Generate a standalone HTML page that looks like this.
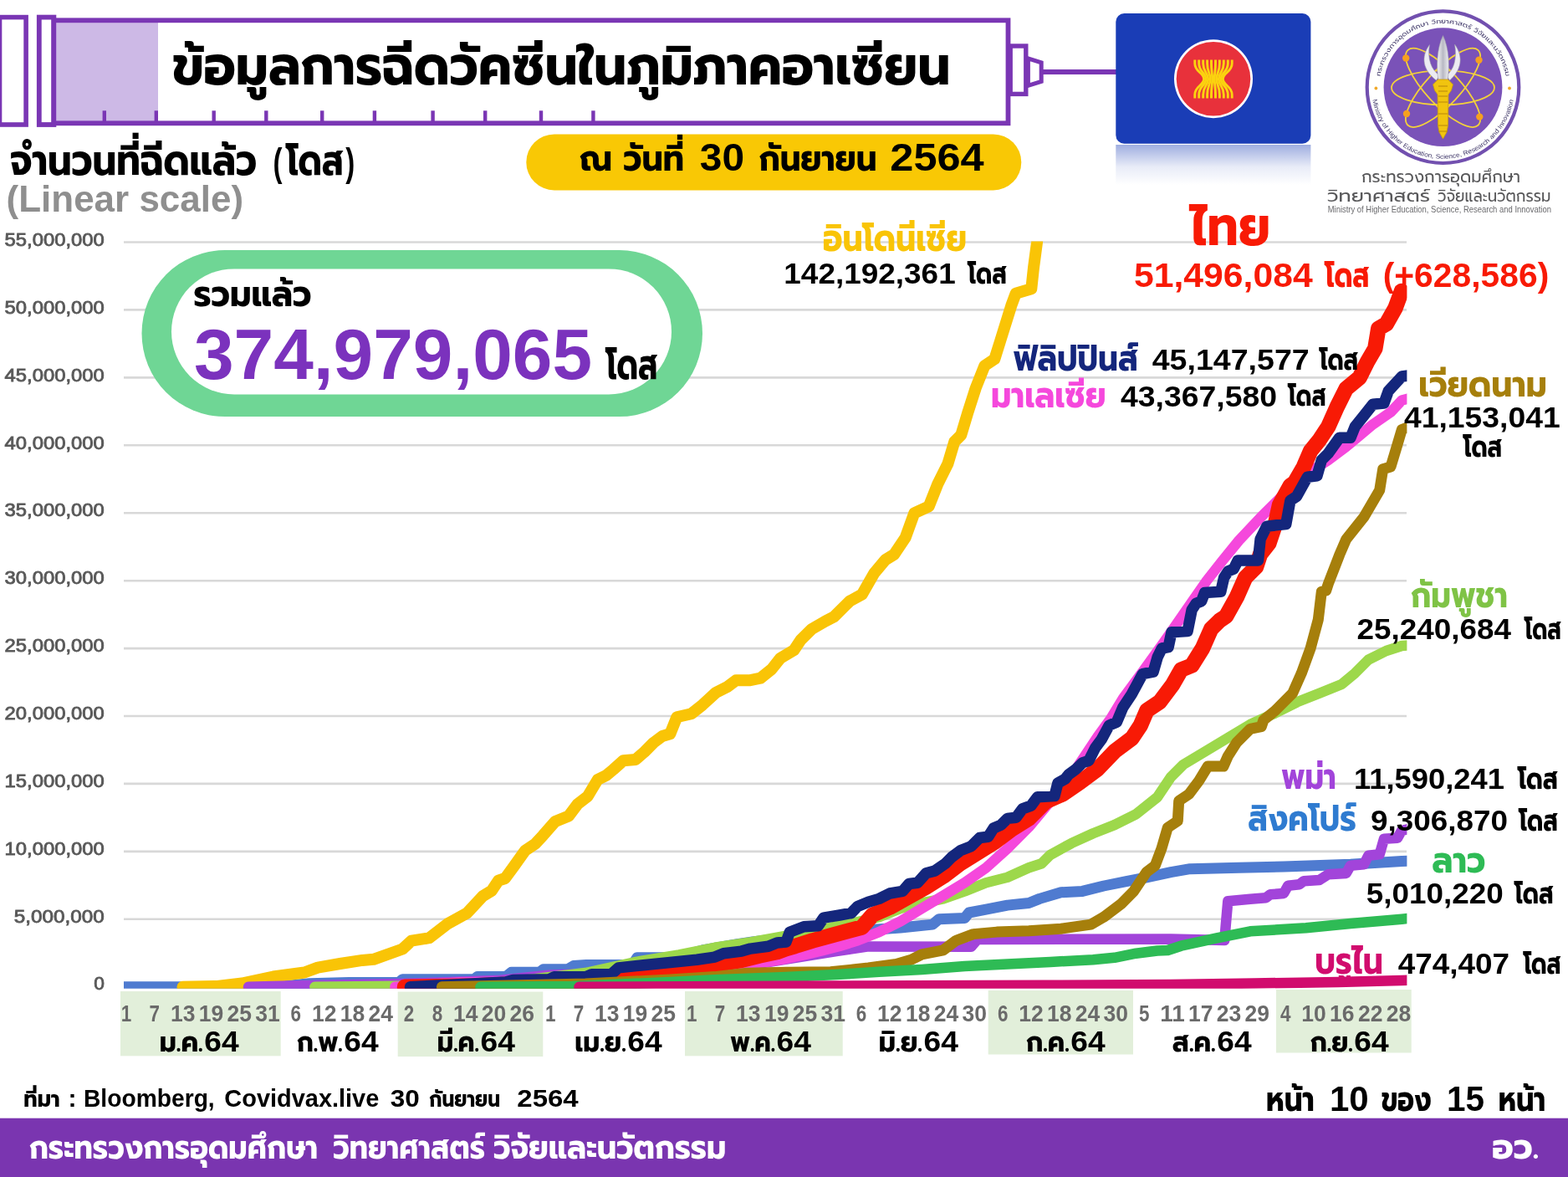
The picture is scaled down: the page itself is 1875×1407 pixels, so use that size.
<!DOCTYPE html>
<html lang="th"><head><meta charset="utf-8"><title>ข้อมูลการฉีดวัคซีนในภูมิภาคอาเซียน</title>
<style>html,body{margin:0;padding:0;background:#fff}body{width:1875px;height:1407px;overflow:hidden}svg{display:block;font-family:"Liberation Sans","Prompt","Kanit","Noto Sans Thai",sans-serif}text{white-space:pre}.tb,.tr{font-family:"Prompt","Kanit","Noto Sans Thai","IPAGothic",sans-serif}.tb{font-weight:700}.tr{font-weight:400}.tb text{font-size:calc(-0.4315em + 2.0629ch);stroke-width:max(0px,calc(0.1074em + -0.1547ch));transform:translate(0px,calc(-0.3579em + 0.5157ch))}.tr text{font-size:calc(-0.5635em + 2.3269ch);stroke-width:max(0px,calc(0.1173em + -0.1745ch));transform:translate(0px,calc(-0.3909em + 0.5817ch))}</style>
</head><body>
<svg width="1875" height="1407" viewBox="0 0 1875 1407">
<defs>
<clipPath id="plot"><rect x="148" y="288.4" width="1534.4" height="893.4"/></clipPath>
<linearGradient id="refl" x1="0" y1="0" x2="0" y2="1"><stop offset="0" stop-color="#1A3DB5" stop-opacity="0.42"/><stop offset="0.55" stop-color="#1A3DB5" stop-opacity="0.10"/><stop offset="1" stop-color="#1A3DB5" stop-opacity="0"/></linearGradient>
<linearGradient id="blade" x1="0" y1="0" x2="1" y2="0"><stop offset="0" stop-color="#f4f4f6"/><stop offset="0.5" stop-color="#b9b9c4"/><stop offset="1" stop-color="#ededf1"/></linearGradient>
<path id="arcTop" d="M 1649.2 104.2 A 76.3 76.3 0 0 1 1801.8 104.2"/>
<path id="arcBot" d="M 1639.9 104.2 A 85.6 85.6 0 0 0 1811.1 104.2"/>
</defs>
<rect width="1875" height="1407" fill="#fff"/>
<g id="syringe">
<rect x="-0.5" y="20.6" width="31.6" height="128.4" fill="#fff" stroke="#7A36B4" stroke-width="5.6"/>
<rect x="46.8" y="20.6" width="17.6" height="128.4" fill="#fff" stroke="#7A36B4" stroke-width="5.8"/>
<rect x="67" y="27" width="122" height="118" fill="#CDB9E6"/>
<rect x="64.3" y="24.3" width="1141.2" height="123" fill="none" stroke="#7A36B4" stroke-width="5.8"/>
<rect x="122.6" y="132.3" width="4.4" height="13" fill="#7A36B4"/>
<rect x="184.6" y="132.3" width="4.4" height="13" fill="#7A36B4"/>
<rect x="253.5" y="132.3" width="4.4" height="13" fill="#7A36B4"/>
<rect x="316.1" y="132.3" width="4.4" height="13" fill="#7A36B4"/>
<rect x="383.0" y="132.3" width="4.4" height="13" fill="#7A36B4"/>
<rect x="445.7" y="132.3" width="4.4" height="13" fill="#7A36B4"/>
<rect x="515.4" y="132.3" width="4.4" height="13" fill="#7A36B4"/>
<rect x="578.0" y="132.3" width="4.4" height="13" fill="#7A36B4"/>
<rect x="644.8" y="132.3" width="4.4" height="13" fill="#7A36B4"/>
<rect x="707.2" y="132.3" width="4.4" height="13" fill="#7A36B4"/>
<rect x="1208.2" y="55.0" width="18.6" height="57.4" fill="#fff" stroke="#7A36B4" stroke-width="5.4"/>
<path d="M1229.4 69.8 L1245.2 74.8 L1245.2 97.4 L1229.4 102.4 Z" fill="#fff" stroke="#7A36B4" stroke-width="5" stroke-linejoin="miter"/>
<rect x="1247" y="83" width="88" height="6" fill="#7A36B4"/>
</g>
<g class="tb" font-size="65.5"><text x="206.0" y="101.2" fill="#000" stroke="#000" textLength="930.3" lengthAdjust="spacingAndGlyphs">ข้อมูลการฉีดวัคซีนในภูมิภาคอาเซียน</text></g>
<rect x="629.3" y="160.4" width="592" height="67" rx="33.5" fill="#F9C805"/>
<g class="tb" font-size="42.5"><text x="692.7" y="204.3" fill="#000" stroke="#000" textLength="125.3" lengthAdjust="spacingAndGlyphs">ณ วันที่</text></g>
<text x="836.8" y="204.3" font-size="45.5" font-weight="700" fill="#000" textLength="53.2" lengthAdjust="spacingAndGlyphs">30</text>
<g class="tb" font-size="42.5"><text x="907.4" y="204.3" fill="#000" stroke="#000" textLength="141.1" lengthAdjust="spacingAndGlyphs">กันยายน</text></g>
<text x="1064.3" y="204.3" font-size="45.5" font-weight="700" fill="#000" textLength="112.4" lengthAdjust="spacingAndGlyphs">2564</text>
<g class="tb" font-size="50.0"><text x="12.0" y="209.5" fill="#000" stroke="#000" textLength="295.0" lengthAdjust="spacingAndGlyphs">จำนวนที่ฉีดแล้ว</text></g>
<text x="326.5" y="209.5" font-size="47.0" font-weight="700" fill="#000" textLength="11.0" lengthAdjust="spacingAndGlyphs">(</text>
<g class="tb" font-size="50.0"><text x="342.2" y="209.5" fill="#000" stroke="#000" textLength="68.8" lengthAdjust="spacingAndGlyphs">โดส</text></g>
<text x="413.3" y="209.5" font-size="47.0" font-weight="700" fill="#000" textLength="11.0" lengthAdjust="spacingAndGlyphs">)</text>
<text x="7.6" y="253.0" font-size="43.5" font-weight="700" fill="#8F8F8F" textLength="283.5" lengthAdjust="spacingAndGlyphs">(Linear scale)</text>
<g id="asean">
<rect x="1334.3" y="173" width="233.1" height="48" fill="url(#refl)"/>
<rect x="1334.3" y="16" width="233.1" height="155.8" rx="10" fill="#1A3DB6"/>
<circle cx="1451" cy="94.2" r="47" fill="#fff"/>
<circle cx="1451" cy="94.2" r="44.3" fill="#E8313B"/>
<path d="M1428.8 71.4 L1428.8 76 C1428.8 86 1439.6 87 1439.6 94.5 C1439.6 102 1428.8 103 1428.8 113 L1428.8 117.6" fill="none" stroke="#FBD30F" stroke-width="2.9"/>
<path d="M1433.7 71.4 L1433.7 76 C1433.7 86 1442.1 87 1442.1 94.5 C1442.1 102 1433.7 103 1433.7 113 L1433.7 117.6" fill="none" stroke="#FBD30F" stroke-width="2.9"/>
<path d="M1438.7 71.4 L1438.7 76 C1438.7 86 1444.7 87 1444.7 94.5 C1444.7 102 1438.7 103 1438.7 113 L1438.7 117.6" fill="none" stroke="#FBD30F" stroke-width="2.9"/>
<path d="M1443.6 71.4 L1443.6 76 C1443.6 86 1447.2 87 1447.2 94.5 C1447.2 102 1443.6 103 1443.6 113 L1443.6 117.6" fill="none" stroke="#FBD30F" stroke-width="2.9"/>
<path d="M1448.5 71.4 L1448.5 76 C1448.5 86 1449.7 87 1449.7 94.5 C1449.7 102 1448.5 103 1448.5 113 L1448.5 117.6" fill="none" stroke="#FBD30F" stroke-width="2.9"/>
<path d="M1453.5 71.4 L1453.5 76 C1453.5 86 1452.3 87 1452.3 94.5 C1452.3 102 1453.5 103 1453.5 113 L1453.5 117.6" fill="none" stroke="#FBD30F" stroke-width="2.9"/>
<path d="M1458.4 71.4 L1458.4 76 C1458.4 86 1454.8 87 1454.8 94.5 C1454.8 102 1458.4 103 1458.4 113 L1458.4 117.6" fill="none" stroke="#FBD30F" stroke-width="2.9"/>
<path d="M1463.3 71.4 L1463.3 76 C1463.3 86 1457.3 87 1457.3 94.5 C1457.3 102 1463.3 103 1463.3 113 L1463.3 117.6" fill="none" stroke="#FBD30F" stroke-width="2.9"/>
<path d="M1468.3 71.4 L1468.3 76 C1468.3 86 1459.9 87 1459.9 94.5 C1459.9 102 1468.3 103 1468.3 113 L1468.3 117.6" fill="none" stroke="#FBD30F" stroke-width="2.9"/>
<path d="M1473.2 71.4 L1473.2 76 C1473.2 86 1462.4 87 1462.4 94.5 C1462.4 102 1473.2 103 1473.2 113 L1473.2 117.6" fill="none" stroke="#FBD30F" stroke-width="2.9"/>
</g>
<g id="mhesi">
<circle cx="1725.5" cy="104.2" r="90.8" fill="#fff" stroke="#7250AF" stroke-width="4.2"/>
<circle cx="1725.5" cy="104.2" r="70.9" fill="#7A52B8"/>
<ellipse cx="1725.5" cy="104.8" rx="61.5" ry="20.5" fill="none" stroke="#F3D13A" stroke-width="1.8"/>
<ellipse cx="1725.5" cy="104.8" rx="61.5" ry="20.5" fill="none" stroke="#F3D13A" stroke-width="1.8" transform="rotate(47 1725.5 104.8)"/>
<ellipse cx="1725.5" cy="104.8" rx="61.5" ry="20.5" fill="none" stroke="#F3D13A" stroke-width="1.8" transform="rotate(-47 1725.5 104.8)"/>
<circle cx="1681.2" cy="69.5" r="4.2" fill="#F6A01F"/>
<circle cx="1768.5" cy="71.8" r="4.2" fill="#F6A01F"/>
<circle cx="1682" cy="136" r="4.2" fill="#F6A01F"/>
<circle cx="1769.3" cy="139.6" r="4.2" fill="#F6A01F"/>
<circle cx="1645.4" cy="105.5" r="1.9" fill="#F0A92B"/>
<circle cx="1805" cy="105.5" r="1.9" fill="#F0A92B"/>
<path d="M1709.5 53.5 C1698.5 68 1701.5 84 1717.5 96 L1721.5 90 C1711.5 84 1706.5 70 1709.5 53.5 Z" fill="#ececf2" stroke="#9a9aa8" stroke-width="0.6"/>
<path d="M1739.5 53 C1750.5 68 1747.5 84 1733.5 96 L1729.5 90 C1738.5 84 1742.5 70 1739.5 53 Z" fill="#ececf2" stroke="#9a9aa8" stroke-width="0.6"/>
<path d="M1725.5 42.5 C1733.0 58 1733.5 80 1731.0 96 L1720.0 96 C1717.5 80 1718.0 58 1725.5 42.5 Z" fill="url(#blade)" stroke="#9a9aa8" stroke-width="0.6"/>
<path d="M1719.5 95 L1731.5 95 L1737.5 101 L1735.5 108 L1732.0 113 L1731.5 150 L1730.0 158 L1725.5 166 L1721.0 158 L1719.5 150 L1719.0 113 L1715.5 108 L1713.5 101 Z" fill="#F1C40F" stroke="#C79A12" stroke-width="0.8"/>
<path d="M1720.0 103 L1731.0 103" stroke="#B8860B" stroke-width="1"/>
<path d="M1720.0 109 L1731.0 109" stroke="#B8860B" stroke-width="1"/>
<path d="M1720.0 115 L1731.0 115" stroke="#B8860B" stroke-width="1"/>
<path d="M1720.0 122 L1731.0 122" stroke="#B8860B" stroke-width="1"/>
<path d="M1720.0 136 L1731.0 136" stroke="#B8860B" stroke-width="1"/>
<path d="M1720.0 150 L1731.0 150" stroke="#B8860B" stroke-width="1"/>
<path d="M1720.0 157 L1731.0 157" stroke="#B8860B" stroke-width="1"/>
<g class="tr" font-size="7.4"><text fill="#3F3768" stroke="#3F3768"><textPath href="#arcTop" startOffset="50%" text-anchor="middle" textLength="214" lengthAdjust="spacingAndGlyphs">กระทรวงการอุดมศึกษา วิทยาศาสตร์ วิจัยและนวัตกรรม</textPath></text></g>
<text font-size="7.6" font-weight="400" fill="#3F3768"><textPath href="#arcBot" startOffset="50%" text-anchor="middle" textLength="238" lengthAdjust="spacingAndGlyphs">Ministry of Higher Education, Science, Research and Innovation</textPath></text>
</g>
<g class="tr" font-size="20.0"><text x="1628.0" y="218.3" fill="#58585A" stroke="#58585A" textLength="190.0" lengthAdjust="spacingAndGlyphs">กระทรวงการอุดมศึกษา</text></g>
<g class="tr" font-size="20.5"><text x="1586.7" y="240.7" fill="#58585A" stroke="#58585A" textLength="123.3" lengthAdjust="spacingAndGlyphs">วิทยาศาสตร์</text></g>
<g class="tr" font-size="20.5"><text x="1719.0" y="240.7" fill="#58585A" stroke="#58585A" textLength="135.4" lengthAdjust="spacingAndGlyphs">วิจัยและนวัตกรรม</text></g>
<text x="1587.7" y="254.3" font-size="10.2" font-weight="400" fill="#6b6b6e" textLength="267.3" lengthAdjust="spacingAndGlyphs">Ministry of Higher Education, Science, Research and Innovation</text>
<g id="grid" stroke="#D8D8D8" stroke-width="2.6">
<path d="M148 1098.8 H1682"/>
<path d="M148 1017.9 H1682"/>
<path d="M148 936.9 H1682"/>
<path d="M148 856.0 H1682"/>
<path d="M148 775.1 H1682"/>
<path d="M148 694.2 H1682"/>
<path d="M148 613.2 H1682"/>
<path d="M148 532.3 H1682"/>
<path d="M148 451.4 H1682"/>
<path d="M148 370.4 H1682"/>
<path d="M148 289.5 H1682"/>
</g>
<g id="ylabels">
<text x="112.3" y="1183.3" font-size="22.8" font-weight="400" fill="#595959" textLength="12.7" lengthAdjust="spacingAndGlyphs" stroke="#595959" stroke-width="0.9">0</text>
<text x="16.8" y="1103.0" font-size="22.8" font-weight="400" fill="#595959" textLength="108.0" lengthAdjust="spacingAndGlyphs" stroke="#595959" stroke-width="0.9">5,000,000</text>
<text x="5.6" y="1022.1" font-size="22.8" font-weight="400" fill="#595959" textLength="119.2" lengthAdjust="spacingAndGlyphs" stroke="#595959" stroke-width="0.9">10,000,000</text>
<text x="5.6" y="941.1" font-size="22.8" font-weight="400" fill="#595959" textLength="119.2" lengthAdjust="spacingAndGlyphs" stroke="#595959" stroke-width="0.9">15,000,000</text>
<text x="5.6" y="860.2" font-size="22.8" font-weight="400" fill="#595959" textLength="119.2" lengthAdjust="spacingAndGlyphs" stroke="#595959" stroke-width="0.9">20,000,000</text>
<text x="5.6" y="779.3" font-size="22.8" font-weight="400" fill="#595959" textLength="119.2" lengthAdjust="spacingAndGlyphs" stroke="#595959" stroke-width="0.9">25,000,000</text>
<text x="5.6" y="698.4" font-size="22.8" font-weight="400" fill="#595959" textLength="119.2" lengthAdjust="spacingAndGlyphs" stroke="#595959" stroke-width="0.9">30,000,000</text>
<text x="5.6" y="617.4" font-size="22.8" font-weight="400" fill="#595959" textLength="119.2" lengthAdjust="spacingAndGlyphs" stroke="#595959" stroke-width="0.9">35,000,000</text>
<text x="5.6" y="536.5" font-size="22.8" font-weight="400" fill="#595959" textLength="119.2" lengthAdjust="spacingAndGlyphs" stroke="#595959" stroke-width="0.9">40,000,000</text>
<text x="5.6" y="455.6" font-size="22.8" font-weight="400" fill="#595959" textLength="119.2" lengthAdjust="spacingAndGlyphs" stroke="#595959" stroke-width="0.9">45,000,000</text>
<text x="5.6" y="374.6" font-size="22.8" font-weight="400" fill="#595959" textLength="119.2" lengthAdjust="spacingAndGlyphs" stroke="#595959" stroke-width="0.9">50,000,000</text>
<text x="5.6" y="293.7" font-size="22.8" font-weight="400" fill="#595959" textLength="119.2" lengthAdjust="spacingAndGlyphs" stroke="#595959" stroke-width="0.9">55,000,000</text>
</g>
<rect x="169.5" y="299.1" width="670.5" height="199" rx="99.5" fill="#6FD695"/>
<rect x="205" y="321.4" width="598" height="150" rx="75" fill="#fff"/>
<g class="tb" font-size="42.5"><text x="231.5" y="366.0" fill="#000" stroke="#000" textLength="141.0" lengthAdjust="spacingAndGlyphs">รวมแล้ว</text></g>
<text x="232.0" y="452.5" font-size="85.5" font-weight="700" fill="#7B32BD" textLength="476.0" lengthAdjust="spacingAndGlyphs">374,979,065</text>
<g class="tb" font-size="50.0"><text x="724.5" y="453.0" fill="#000" stroke="#000" textLength="62.0" lengthAdjust="spacingAndGlyphs">โดส</text></g>
<g id="lines" clip-path="url(#plot)" fill="none" stroke-linejoin="round" stroke-linecap="round">
<polyline points="140.0,1179.8 330.0,1179.8 370.4,1175.7 417.3,1174.6 477.0,1174.4 481.3,1170.8 566.7,1170.8 571.0,1167.5 605.0,1167.5 611.5,1162.2 645.6,1162.0 649.9,1158.7 679.7,1158.4 686.0,1154.5 701.0,1153.5 756.5,1153.3 761.9,1144.7 807.7,1144.7 840.0,1136.0 880.3,1129.0 900.0,1126.0 940.0,1121.0 980.0,1116.0 1020.0,1113.0 1076.8,1109.0 1115.2,1105.1 1122.8,1098.7 1153.6,1097.4 1158.7,1091.0 1179.1,1087.2 1204.7,1082.1 1230.3,1079.5 1243.1,1074.4 1268.7,1066.7 1294.3,1065.4 1319.9,1059.0 1345.5,1053.9 1371.1,1048.8 1400.0,1042.6 1423.0,1038.7 1481.7,1037.3 1535.0,1036.0 1615.0,1033.3 1676.3,1029.5 1684.0,1029.3" stroke="#4F7BD0" stroke-width="13"/>
<polyline points="218.5,1179.8 260.0,1179.0 289.3,1175.5 326.7,1167.5 364.0,1162.5 380.0,1156.7 406.7,1152.0 433.3,1147.9 446.7,1146.8 481.3,1134.5 492.0,1124.7 513.3,1121.2 534.7,1104.7 558.7,1091.3 577.3,1071.3 588.0,1064.7 596.0,1052.7 604.0,1050.0 614.7,1035.3 628.0,1016.7 640.0,1008.7 649.3,998.7 664.0,981.9 680.0,975.5 690.7,961.3 702.7,952.0 714.7,932.0 725.3,926.7 733.3,920.0 745.3,909.3 760.0,908.0 770.7,898.7 781.3,888.0 792.0,880.0 801.3,877.3 809.3,857.3 826.7,853.3 840.0,842.7 856.0,828.0 869.3,821.3 880.0,813.3 896.0,813.3 909.3,810.7 922.7,800.0 933.3,786.7 949.3,777.3 957.3,765.3 970.7,752.0 986.7,742.7 997.3,737.3 1016.0,718.7 1030.7,710.7 1045.3,685.3 1058.7,669.3 1069.3,662.7 1082.7,642.7 1093.3,613.3 1110.7,605.3 1121.3,578.7 1133.3,554.7 1141.3,528.0 1149.3,520.0 1157.3,493.3 1166.7,464.0 1177.3,437.3 1189.3,429.3 1196.0,408.0 1209.3,365.3 1214.7,350.7 1233.3,345.3 1236.0,320.0 1240.0,289.9 1241.5,270.0" stroke="#F9C406" stroke-width="14"/>
<polyline points="297.0,1179.8 327.0,1179.0 370.0,1178.0 480.0,1176.0 598.7,1171.8 658.4,1165.4 700.0,1164.2 760.0,1162.0 900.0,1153.0 1000.0,1137.0 1038.4,1131.4 1161.2,1131.8 1168.9,1123.0 1400.0,1122.5 1464.3,1124.0 1465.7,1106.7 1468.3,1077.3 1495.0,1074.7 1513.7,1073.3 1519.0,1069.3 1535.0,1068.0 1540.3,1058.7 1553.7,1057.3 1559.0,1053.3 1577.7,1052.0 1588.3,1045.3 1609.7,1044.0 1615.0,1034.7 1631.0,1033.3 1636.3,1022.7 1649.7,1021.3 1655.0,1002.7 1671.0,1001.8 1676.0,993.0 1684.0,991.0" stroke="#A244DA" stroke-width="12.5"/>
<polyline points="376.4,1179.8 500.0,1178.5 600.0,1175.0 700.0,1163.0 760.8,1149.9 812.0,1141.3 854.7,1132.8 897.3,1126.4 929.3,1120.6 993.3,1108.9 1025.6,1102.0 1051.2,1096.2 1076.8,1085.9 1102.4,1079.5 1128.0,1074.4 1153.6,1065.4 1179.1,1055.2 1204.7,1048.8 1230.3,1037.3 1245.7,1032.2 1255.9,1021.9 1281.5,1007.9 1307.1,996.3 1332.7,986.1 1358.3,973.3 1383.9,953.0 1400.0,929.0 1415.0,914.0 1441.7,898.0 1468.3,882.0 1495.0,866.0 1524.3,852.7 1551.0,839.3 1577.7,828.7 1604.3,818.0 1620.3,804.7 1636.3,788.7 1657.7,778.0 1676.3,772.0 1684.0,771.5" stroke="#9DD84B" stroke-width="12.5"/>
<polyline points="472.4,1179.8 549.6,1174.5 603.0,1173.5 700.0,1169.0 800.0,1163.0 893.0,1152.4 918.7,1149.5 940.0,1146.0 961.3,1141.5 982.7,1136.4 1004.0,1131.0 1025.6,1124.3 1051.2,1114.1 1076.8,1101.3 1102.4,1085.9 1128.0,1070.6 1153.6,1055.2 1179.1,1037.3 1204.7,1014.3 1230.3,988.7 1255.9,958.0 1281.5,927.2 1296.9,904.2 1312.2,881.2 1328.0,859.4 1342.9,835.0 1366.3,803.1 1388.3,772.7 1404.7,749.4 1425.0,720.0 1443.1,694.0 1462.0,670.0 1481.6,646.0 1507.5,618.5 1533.0,593.0 1553.2,572.8 1588.3,550.0 1609.7,534.0 1625.7,520.7 1641.7,507.3 1663.0,492.7 1676.3,478.5 1684.0,476.5" stroke="#F548DC" stroke-width="12.5"/>
<polyline points="484.0,1179.8 567.0,1178.5 735.2,1171.0 769.3,1167.0 801.3,1163.2 812.0,1158.5 854.7,1153.2 886.7,1147.9 908.0,1142.5 929.3,1138.0 940.0,1134.0 950.7,1131.0 972.0,1124.4 993.3,1118.5 1015.4,1112.5 1030.7,1108.5 1043.5,1093.6 1064.0,1084.6 1084.5,1073.1 1107.5,1060.3 1128.0,1047.5 1148.4,1032.2 1168.9,1019.4 1189.4,1006.6 1209.9,991.2 1230.3,978.4 1250.8,958.0 1271.3,949.0 1291.7,934.9 1312.2,919.6 1333.1,897.8 1353.6,882.5 1363.8,867.1 1371.5,849.2 1386.8,839.0 1402.2,818.5 1412.4,800.6 1425.2,795.5 1438.0,775.0 1448.2,751.9 1458.5,741.7 1466.2,736.6 1479.0,713.6 1489.2,690.5 1502.0,677.7 1507.1,662.4 1517.3,649.6 1525.0,626.5 1530.1,603.5 1542.9,580.5 1548.3,576.7 1559.0,558.0 1567.0,539.3 1577.7,526.0 1588.3,510.0 1599.0,486.0 1609.7,464.7 1625.7,451.3 1635.0,432.7 1644.3,416.7 1648.3,392.7 1657.7,387.3 1668.3,368.7 1676.0,348.0" stroke="#F81A05" stroke-width="18.5"/>
<polyline points="490.5,1179.8 568.8,1175.7 605.0,1174.0 613.6,1171.4 656.3,1170.8 662.7,1167.8 701.0,1167.4 707.5,1164.8 731.0,1164.6 739.5,1156.9 769.3,1153.7 801.3,1150.5 833.3,1147.3 854.7,1144.1 865.3,1139.8 886.7,1137.1 897.3,1134.1 918.7,1131.3 929.3,1127.0 940.0,1126.0 944.3,1114.2 961.3,1107.8 978.4,1106.8 984.8,1097.2 1004.0,1094.0 1017.9,1091.5 1025.6,1083.4 1038.4,1078.2 1051.2,1074.4 1064.0,1068.0 1079.3,1065.4 1087.0,1056.5 1097.2,1055.2 1107.5,1043.7 1117.7,1041.1 1130.5,1032.2 1138.2,1024.5 1148.4,1016.8 1161.2,1011.7 1171.5,1001.5 1181.7,1000.2 1188.1,990.0 1197.1,986.1 1204.7,978.4 1215.0,977.2 1222.6,966.9 1232.9,963.1 1240.6,952.8 1261.0,951.6 1264.9,936.2 1273.8,931.1 1277.7,926.0 1286.6,919.6 1294.3,911.9 1302.0,909.3 1309.7,894.0 1317.3,883.7 1326.3,867.1 1335.3,863.3 1342.9,845.4 1353.2,830.0 1366.3,805.7 1379.1,803.1 1384.3,785.2 1389.4,775.0 1397.1,773.7 1400.9,755.8 1420.1,754.5 1425.2,728.9 1430.3,721.2 1436.7,718.7 1440.6,708.4 1459.8,707.2 1463.6,690.5 1468.7,682.8 1475.1,680.3 1480.2,670.0 1504.5,670.0 1507.1,644.5 1514.8,629.1 1537.8,626.5 1542.9,598.4 1550.6,593.3 1563.4,570.2 1575.0,568.7 1580.3,550.0 1588.3,542.0 1601.7,523.3 1615.0,523.3 1620.3,510.0 1631.0,496.7 1641.7,483.3 1655.0,482.0 1660.3,467.3 1676.3,450.0 1684.0,449.0" stroke="#14267C" stroke-width="13.5"/>
<polyline points="528.4,1179.8 700.0,1176.0 801.0,1171.0 854.7,1167.6 893.0,1163.3 940.0,1162.2 993.3,1161.8 1020.0,1159.0 1038.4,1157.0 1071.7,1152.5 1089.6,1147.3 1102.4,1140.9 1128.0,1135.8 1143.3,1124.3 1163.8,1116.6 1191.9,1114.1 1230.3,1112.8 1268.7,1110.2 1304.5,1105.1 1319.9,1096.2 1340.4,1080.8 1355.7,1065.4 1371.1,1042.4 1381.3,1034.7 1389.0,1014.3 1396.3,989.3 1408.3,981.3 1409.7,957.3 1421.7,949.3 1433.7,933.3 1444.3,916.0 1463.0,916.0 1468.3,904.0 1479.0,887.3 1495.0,871.3 1508.3,868.7 1511.0,860.7 1524.3,850.0 1545.7,828.7 1556.3,804.7 1567.0,775.3 1576.3,740.7 1580.3,707.3 1585.7,706.0 1588.3,698.0 1601.7,663.3 1609.7,644.7 1631.0,618.0 1649.7,586.0 1653.7,560.7 1663.0,558.0 1671.0,531.3 1676.3,513.5 1684.0,510.5" stroke="#A67F0B" stroke-width="13"/>
<polyline points="574.5,1179.8 684.0,1179.0 801.3,1174.0 854.7,1171.2 940.0,1168.0 1000.0,1165.0 1051.2,1161.8 1102.4,1158.9 1153.6,1155.0 1204.7,1152.5 1255.9,1149.9 1307.1,1147.3 1332.7,1144.8 1358.3,1139.7 1383.9,1136.5 1396.3,1136.0 1412.3,1130.7 1455.0,1121.3 1495.0,1113.3 1561.7,1109.3 1615.0,1104.0 1676.3,1098.7 1684.0,1098.0" stroke="#2EBB55" stroke-width="12.5"/>
<polyline points="692.5,1179.8 1000.0,1178.6 1250.0,1177.8 1400.0,1177.0 1500.0,1175.5 1600.0,1174.0 1676.0,1172.0 1684.0,1171.8" stroke="#D10C6E" stroke-width="12.5"/>
</g>
<g class="tb" font-size="46.0"><text x="984.0" y="300.5" fill="#F9C406" stroke="#F9C406" textLength="172.0" lengthAdjust="spacingAndGlyphs">อินโดนีเซีย</text></g>
<text x="937.3" y="338.7" font-size="35.5" font-weight="700" fill="#000" textLength="205.4" lengthAdjust="spacingAndGlyphs">142,192,361</text>
<g class="tb" font-size="37.0"><text x="1157.3" y="338.7" fill="#000" stroke="#000" textLength="46.7" lengthAdjust="spacingAndGlyphs">โดส</text></g>
<g class="tb" font-size="65.5"><text x="1423.0" y="292.7" fill="#F81A05" stroke="#F81A05" textLength="96.0" lengthAdjust="spacingAndGlyphs">ไทย</text></g>
<text x="1356.0" y="343.3" font-size="40.7" font-weight="700" fill="#F81A05" textLength="213.7" lengthAdjust="spacingAndGlyphs">51,496,084</text>
<g class="tb" font-size="42.0"><text x="1584.3" y="343.3" fill="#F81A05" stroke="#F81A05" textLength="53.4" lengthAdjust="spacingAndGlyphs">โดส</text></g>
<text x="1653.7" y="343.3" font-size="40.7" font-weight="700" fill="#F81A05" textLength="198.6" lengthAdjust="spacingAndGlyphs">(+628,586)</text>
<g class="tb" font-size="43.6"><text x="1211.5" y="442.7" fill="#14267C" stroke="#14267C" textLength="149.5" lengthAdjust="spacingAndGlyphs">ฟิลิปปินส์</text></g>
<text x="1377.7" y="442.0" font-size="35.5" font-weight="700" fill="#000" textLength="188.0" lengthAdjust="spacingAndGlyphs">45,147,577</text>
<g class="tb" font-size="37.0"><text x="1577.7" y="442.0" fill="#000" stroke="#000" textLength="46.6" lengthAdjust="spacingAndGlyphs">โดส</text></g>
<g class="tb" font-size="43.6"><text x="1185.0" y="486.7" fill="#F548DC" stroke="#F548DC" textLength="137.7" lengthAdjust="spacingAndGlyphs">มาเลเซีย</text></g>
<text x="1340.0" y="485.5" font-size="35.5" font-weight="700" fill="#000" textLength="187.0" lengthAdjust="spacingAndGlyphs">43,367,580</text>
<g class="tb" font-size="37.0"><text x="1540.3" y="485.5" fill="#000" stroke="#000" textLength="45.4" lengthAdjust="spacingAndGlyphs">โดส</text></g>
<g class="tb" font-size="43.6"><text x="1696.3" y="474.0" fill="#A67F0B" stroke="#A67F0B" textLength="153.4" lengthAdjust="spacingAndGlyphs">เวียดนาม</text></g>
<text x="1679.0" y="511.3" font-size="35.5" font-weight="700" fill="#000" textLength="186.7" lengthAdjust="spacingAndGlyphs">41,153,041</text>
<g class="tb" font-size="37.0"><text x="1749.7" y="546.0" fill="#000" stroke="#000" textLength="46.6" lengthAdjust="spacingAndGlyphs">โดส</text></g>
<g class="tb" font-size="43.6"><text x="1687.0" y="726.0" fill="#7FC346" stroke="#7FC346" textLength="116.0" lengthAdjust="spacingAndGlyphs">กัมพูชา</text></g>
<text x="1622.5" y="764.0" font-size="35.5" font-weight="700" fill="#000" textLength="184.5" lengthAdjust="spacingAndGlyphs">25,240,684</text>
<g class="tb" font-size="37.0"><text x="1823.0" y="764.0" fill="#000" stroke="#000" textLength="44.0" lengthAdjust="spacingAndGlyphs">โดส</text></g>
<g class="tb" font-size="43.6"><text x="1532.3" y="942.7" fill="#A244DA" stroke="#A244DA" textLength="65.4" lengthAdjust="spacingAndGlyphs">พม่า</text></g>
<text x="1619.0" y="942.7" font-size="35.5" font-weight="700" fill="#000" textLength="180.0" lengthAdjust="spacingAndGlyphs">11,590,241</text>
<g class="tb" font-size="37.0"><text x="1815.0" y="942.7" fill="#000" stroke="#000" textLength="48.0" lengthAdjust="spacingAndGlyphs">โดส</text></g>
<g class="tb" font-size="43.6"><text x="1492.3" y="993.3" fill="#2F7BD0" stroke="#2F7BD0" textLength="129.4" lengthAdjust="spacingAndGlyphs">สิงคโปร์</text></g>
<text x="1639.0" y="993.0" font-size="35.5" font-weight="700" fill="#000" textLength="164.0" lengthAdjust="spacingAndGlyphs">9,306,870</text>
<g class="tb" font-size="37.0"><text x="1816.3" y="993.0" fill="#000" stroke="#000" textLength="46.7" lengthAdjust="spacingAndGlyphs">โดส</text></g>
<g class="tb" font-size="43.6"><text x="1712.3" y="1042.7" fill="#2EBB55" stroke="#2EBB55" textLength="64.0" lengthAdjust="spacingAndGlyphs">ลาว</text></g>
<text x="1633.7" y="1080.0" font-size="35.5" font-weight="700" fill="#000" textLength="164.0" lengthAdjust="spacingAndGlyphs">5,010,220</text>
<g class="tb" font-size="37.0"><text x="1811.0" y="1080.0" fill="#000" stroke="#000" textLength="46.7" lengthAdjust="spacingAndGlyphs">โดส</text></g>
<g class="tb" font-size="46.0"><text x="1572.3" y="1164.3" fill="#D10C6E" stroke="#D10C6E" textLength="81.4" lengthAdjust="spacingAndGlyphs">บรูไน</text></g>
<text x="1671.7" y="1164.3" font-size="35.5" font-weight="700" fill="#000" textLength="133.3" lengthAdjust="spacingAndGlyphs">474,407</text>
<g class="tb" font-size="37.0"><text x="1821.7" y="1164.3" fill="#000" stroke="#000" textLength="45.0" lengthAdjust="spacingAndGlyphs">โดส</text></g>
<g id="months" fill="#E2EFDA">
<rect x="144" y="1185" width="191.7" height="77.3"/>
<rect x="475.7" y="1185.5" width="173.6" height="77.5"/>
<rect x="819" y="1185" width="188.7" height="77.3"/>
<rect x="1181.7" y="1184" width="173.3" height="76.5"/>
<rect x="1526" y="1183" width="161.7" height="75.5"/>
</g>
<g id="dates">
<text x="144.8" y="1220.7" font-size="27.0" font-weight="700" fill="#6A6A6A" textLength="12.5" lengthAdjust="spacingAndGlyphs">1</text>
<text x="178.6" y="1220.7" font-size="27.0" font-weight="700" fill="#6A6A6A" textLength="12.5" lengthAdjust="spacingAndGlyphs">7</text>
<text x="203.9" y="1220.7" font-size="27.0" font-weight="700" fill="#6A6A6A" textLength="29.5" lengthAdjust="spacingAndGlyphs">13</text>
<text x="237.7" y="1220.7" font-size="27.0" font-weight="700" fill="#6A6A6A" textLength="29.5" lengthAdjust="spacingAndGlyphs">19</text>
<text x="271.5" y="1220.7" font-size="27.0" font-weight="700" fill="#6A6A6A" textLength="29.5" lengthAdjust="spacingAndGlyphs">25</text>
<text x="305.3" y="1220.7" font-size="27.0" font-weight="700" fill="#6A6A6A" textLength="29.5" lengthAdjust="spacingAndGlyphs">31</text>
<text x="347.6" y="1220.7" font-size="27.0" font-weight="700" fill="#6A6A6A" textLength="12.5" lengthAdjust="spacingAndGlyphs">6</text>
<text x="372.9" y="1220.7" font-size="27.0" font-weight="700" fill="#6A6A6A" textLength="29.5" lengthAdjust="spacingAndGlyphs">12</text>
<text x="406.7" y="1220.7" font-size="27.0" font-weight="700" fill="#6A6A6A" textLength="29.5" lengthAdjust="spacingAndGlyphs">18</text>
<text x="440.5" y="1220.7" font-size="27.0" font-weight="700" fill="#6A6A6A" textLength="29.5" lengthAdjust="spacingAndGlyphs">24</text>
<text x="482.8" y="1220.7" font-size="27.0" font-weight="700" fill="#6A6A6A" textLength="12.5" lengthAdjust="spacingAndGlyphs">2</text>
<text x="516.7" y="1220.7" font-size="27.0" font-weight="700" fill="#6A6A6A" textLength="12.5" lengthAdjust="spacingAndGlyphs">8</text>
<text x="542.0" y="1220.7" font-size="27.0" font-weight="700" fill="#6A6A6A" textLength="29.5" lengthAdjust="spacingAndGlyphs">14</text>
<text x="575.8" y="1220.7" font-size="27.0" font-weight="700" fill="#6A6A6A" textLength="29.5" lengthAdjust="spacingAndGlyphs">20</text>
<text x="609.6" y="1220.7" font-size="27.0" font-weight="700" fill="#6A6A6A" textLength="29.5" lengthAdjust="spacingAndGlyphs">26</text>
<text x="651.9" y="1220.7" font-size="27.0" font-weight="700" fill="#6A6A6A" textLength="12.5" lengthAdjust="spacingAndGlyphs">1</text>
<text x="685.7" y="1220.7" font-size="27.0" font-weight="700" fill="#6A6A6A" textLength="12.5" lengthAdjust="spacingAndGlyphs">7</text>
<text x="711.0" y="1220.7" font-size="27.0" font-weight="700" fill="#6A6A6A" textLength="29.5" lengthAdjust="spacingAndGlyphs">13</text>
<text x="744.8" y="1220.7" font-size="27.0" font-weight="700" fill="#6A6A6A" textLength="29.5" lengthAdjust="spacingAndGlyphs">19</text>
<text x="778.6" y="1220.7" font-size="27.0" font-weight="700" fill="#6A6A6A" textLength="29.5" lengthAdjust="spacingAndGlyphs">25</text>
<text x="820.9" y="1220.7" font-size="27.0" font-weight="700" fill="#6A6A6A" textLength="12.5" lengthAdjust="spacingAndGlyphs">1</text>
<text x="854.8" y="1220.7" font-size="27.0" font-weight="700" fill="#6A6A6A" textLength="12.5" lengthAdjust="spacingAndGlyphs">7</text>
<text x="880.1" y="1220.7" font-size="27.0" font-weight="700" fill="#6A6A6A" textLength="29.5" lengthAdjust="spacingAndGlyphs">13</text>
<text x="913.9" y="1220.7" font-size="27.0" font-weight="700" fill="#6A6A6A" textLength="29.5" lengthAdjust="spacingAndGlyphs">19</text>
<text x="947.7" y="1220.7" font-size="27.0" font-weight="700" fill="#6A6A6A" textLength="29.5" lengthAdjust="spacingAndGlyphs">25</text>
<text x="981.5" y="1220.7" font-size="27.0" font-weight="700" fill="#6A6A6A" textLength="29.5" lengthAdjust="spacingAndGlyphs">31</text>
<text x="1023.8" y="1220.7" font-size="27.0" font-weight="700" fill="#6A6A6A" textLength="12.5" lengthAdjust="spacingAndGlyphs">6</text>
<text x="1049.1" y="1220.7" font-size="27.0" font-weight="700" fill="#6A6A6A" textLength="29.5" lengthAdjust="spacingAndGlyphs">12</text>
<text x="1082.9" y="1220.7" font-size="27.0" font-weight="700" fill="#6A6A6A" textLength="29.5" lengthAdjust="spacingAndGlyphs">18</text>
<text x="1116.7" y="1220.7" font-size="27.0" font-weight="700" fill="#6A6A6A" textLength="29.5" lengthAdjust="spacingAndGlyphs">24</text>
<text x="1150.5" y="1220.7" font-size="27.0" font-weight="700" fill="#6A6A6A" textLength="29.5" lengthAdjust="spacingAndGlyphs">30</text>
<text x="1192.9" y="1220.7" font-size="27.0" font-weight="700" fill="#6A6A6A" textLength="12.5" lengthAdjust="spacingAndGlyphs">6</text>
<text x="1218.2" y="1220.7" font-size="27.0" font-weight="700" fill="#6A6A6A" textLength="29.5" lengthAdjust="spacingAndGlyphs">12</text>
<text x="1252.0" y="1220.7" font-size="27.0" font-weight="700" fill="#6A6A6A" textLength="29.5" lengthAdjust="spacingAndGlyphs">18</text>
<text x="1285.8" y="1220.7" font-size="27.0" font-weight="700" fill="#6A6A6A" textLength="29.5" lengthAdjust="spacingAndGlyphs">24</text>
<text x="1319.6" y="1220.7" font-size="27.0" font-weight="700" fill="#6A6A6A" textLength="29.5" lengthAdjust="spacingAndGlyphs">30</text>
<text x="1361.9" y="1220.7" font-size="27.0" font-weight="700" fill="#6A6A6A" textLength="12.5" lengthAdjust="spacingAndGlyphs">5</text>
<text x="1387.2" y="1220.7" font-size="27.0" font-weight="700" fill="#6A6A6A" textLength="29.5" lengthAdjust="spacingAndGlyphs">11</text>
<text x="1421.0" y="1220.7" font-size="27.0" font-weight="700" fill="#6A6A6A" textLength="29.5" lengthAdjust="spacingAndGlyphs">17</text>
<text x="1454.8" y="1220.7" font-size="27.0" font-weight="700" fill="#6A6A6A" textLength="29.5" lengthAdjust="spacingAndGlyphs">23</text>
<text x="1488.6" y="1220.7" font-size="27.0" font-weight="700" fill="#6A6A6A" textLength="29.5" lengthAdjust="spacingAndGlyphs">29</text>
<text x="1531.0" y="1220.7" font-size="27.0" font-weight="700" fill="#6A6A6A" textLength="12.5" lengthAdjust="spacingAndGlyphs">4</text>
<text x="1556.3" y="1220.7" font-size="27.0" font-weight="700" fill="#6A6A6A" textLength="29.5" lengthAdjust="spacingAndGlyphs">10</text>
<text x="1590.1" y="1220.7" font-size="27.0" font-weight="700" fill="#6A6A6A" textLength="29.5" lengthAdjust="spacingAndGlyphs">16</text>
<text x="1623.9" y="1220.7" font-size="27.0" font-weight="700" fill="#6A6A6A" textLength="29.5" lengthAdjust="spacingAndGlyphs">22</text>
<text x="1657.7" y="1220.7" font-size="27.0" font-weight="700" fill="#6A6A6A" textLength="29.5" lengthAdjust="spacingAndGlyphs">28</text>
</g>
<g class="tb" font-size="34.5"><text x="190.7" y="1257.3" fill="#000" stroke="#000" textLength="52.0" lengthAdjust="spacingAndGlyphs">ม.ค.</text></g>
<text x="244.3" y="1257.3" font-size="35.5" font-weight="700" fill="#000" textLength="41.4" lengthAdjust="spacingAndGlyphs">64</text>
<g class="tb" font-size="34.5"><text x="355.0" y="1257.3" fill="#000" stroke="#000" textLength="54.7" lengthAdjust="spacingAndGlyphs">ก.พ.</text></g>
<text x="411.3" y="1257.3" font-size="35.5" font-weight="700" fill="#000" textLength="41.4" lengthAdjust="spacingAndGlyphs">64</text>
<g class="tb" font-size="34.5"><text x="522.7" y="1257.3" fill="#000" stroke="#000" textLength="50.3" lengthAdjust="spacingAndGlyphs">มี.ค.</text></g>
<text x="574.6" y="1257.3" font-size="35.5" font-weight="700" fill="#000" textLength="41.4" lengthAdjust="spacingAndGlyphs">64</text>
<g class="tb" font-size="34.5"><text x="687.3" y="1257.3" fill="#000" stroke="#000" textLength="61.4" lengthAdjust="spacingAndGlyphs">เม.ย.</text></g>
<text x="750.3" y="1257.3" font-size="35.5" font-weight="700" fill="#000" textLength="41.4" lengthAdjust="spacingAndGlyphs">64</text>
<g class="tb" font-size="34.5"><text x="873.3" y="1257.3" fill="#000" stroke="#000" textLength="53.7" lengthAdjust="spacingAndGlyphs">พ.ค.</text></g>
<text x="928.6" y="1257.3" font-size="35.5" font-weight="700" fill="#000" textLength="41.4" lengthAdjust="spacingAndGlyphs">64</text>
<g class="tb" font-size="34.5"><text x="1050.7" y="1257.3" fill="#000" stroke="#000" textLength="52.3" lengthAdjust="spacingAndGlyphs">มิ.ย.</text></g>
<text x="1104.6" y="1257.3" font-size="35.5" font-weight="700" fill="#000" textLength="41.4" lengthAdjust="spacingAndGlyphs">64</text>
<g class="tb" font-size="34.5"><text x="1227.0" y="1257.3" fill="#000" stroke="#000" textLength="51.7" lengthAdjust="spacingAndGlyphs">ก.ค.</text></g>
<text x="1280.3" y="1257.3" font-size="35.5" font-weight="700" fill="#000" textLength="41.4" lengthAdjust="spacingAndGlyphs">64</text>
<g class="tb" font-size="34.5"><text x="1401.7" y="1257.3" fill="#000" stroke="#000" textLength="52.0" lengthAdjust="spacingAndGlyphs">ส.ค.</text></g>
<text x="1455.3" y="1257.3" font-size="35.5" font-weight="700" fill="#000" textLength="41.4" lengthAdjust="spacingAndGlyphs">64</text>
<g class="tb" font-size="34.5"><text x="1566.7" y="1257.3" fill="#000" stroke="#000" textLength="51.0" lengthAdjust="spacingAndGlyphs">ก.ย.</text></g>
<text x="1619.3" y="1257.3" font-size="35.5" font-weight="700" fill="#000" textLength="41.4" lengthAdjust="spacingAndGlyphs">64</text>
<g class="tb" font-size="26.5"><text x="28.3" y="1323.3" fill="#000" stroke="#000" textLength="43.4" lengthAdjust="spacingAndGlyphs">ที่มา</text></g>
<text x="100.0" y="1323.3" font-size="30.0" font-weight="700" fill="#000" textLength="156.7" lengthAdjust="spacingAndGlyphs">Bloomberg,</text>
<text x="268.3" y="1323.3" font-size="30.0" font-weight="700" fill="#000" textLength="185.0" lengthAdjust="spacingAndGlyphs">Covidvax.live</text>
<text x="466.7" y="1323.3" font-size="30.0" font-weight="700" fill="#000" textLength="35.0" lengthAdjust="spacingAndGlyphs">30</text>
<g class="tb" font-size="26.5"><text x="513.3" y="1323.3" fill="#000" stroke="#000" textLength="84.7" lengthAdjust="spacingAndGlyphs">กันยายน</text></g>
<text x="618.3" y="1323.3" font-size="30.0" font-weight="700" fill="#000" textLength="73.4" lengthAdjust="spacingAndGlyphs">2564</text>
<text x="81.5" y="1323.3" font-size="30.0" font-weight="700" fill="#000">:</text>
<g class="tb" font-size="42.0"><text x="1514.0" y="1328.3" fill="#000" stroke="#000" textLength="57.7" lengthAdjust="spacingAndGlyphs">หน้า</text></g>
<text x="1590.0" y="1328.3" font-size="42.0" font-weight="700" fill="#000" textLength="46.7" lengthAdjust="spacingAndGlyphs">10</text>
<g class="tb" font-size="42.0"><text x="1651.7" y="1328.3" fill="#000" stroke="#000" textLength="60.0" lengthAdjust="spacingAndGlyphs">ของ</text></g>
<text x="1730.0" y="1328.3" font-size="42.0" font-weight="700" fill="#000" textLength="45.0" lengthAdjust="spacingAndGlyphs">15</text>
<g class="tb" font-size="42.0"><text x="1791.7" y="1328.3" fill="#000" stroke="#000" textLength="56.6" lengthAdjust="spacingAndGlyphs">หน้า</text></g>
<rect x="0" y="1336.7" width="1875" height="70.3" fill="#7A35B0"/>
<g class="tb" font-size="40.5"><text x="35.0" y="1385.5" fill="#fff" stroke="#fff" textLength="345.0" lengthAdjust="spacingAndGlyphs">กระทรวงการอุดมศึกษา</text></g>
<g class="tb" font-size="40.5"><text x="398.3" y="1385.5" fill="#fff" stroke="#fff" textLength="181.7" lengthAdjust="spacingAndGlyphs">วิทยาศาสตร์</text></g>
<g class="tb" font-size="40.5"><text x="590.0" y="1385.5" fill="#fff" stroke="#fff" textLength="278.3" lengthAdjust="spacingAndGlyphs">วิจัยและนวัตกรรม</text></g>
<g class="tb" font-size="41.0"><text x="1784.3" y="1385.5" fill="#fff" stroke="#fff" textLength="55.7" lengthAdjust="spacingAndGlyphs">อว.</text></g>
</svg>
</body></html>
